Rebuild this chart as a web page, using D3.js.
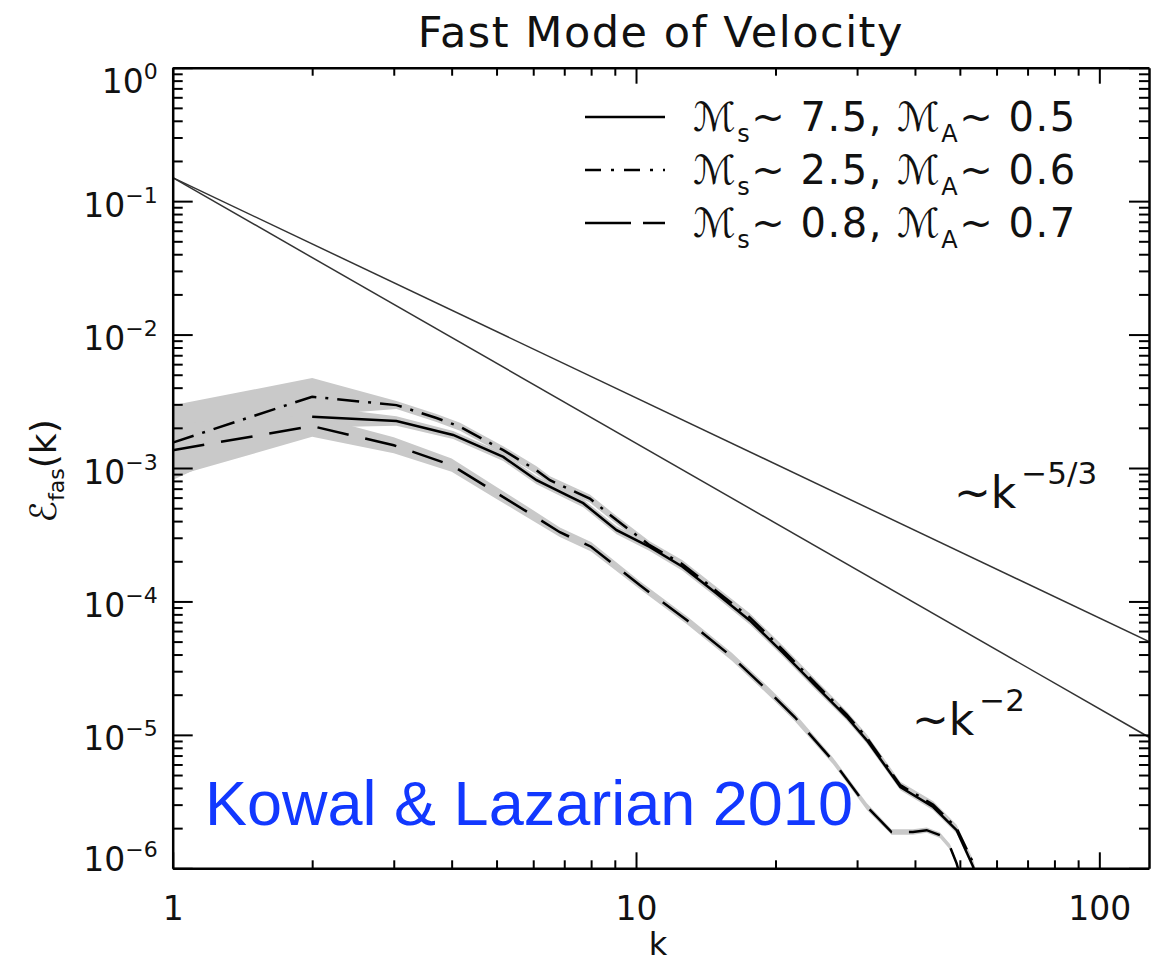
<!DOCTYPE html>
<html>
<head>
<meta charset="utf-8">
<script src="https://cdn.jsdelivr.net/npm/d3@7"></script>
<style>
  body { margin: 0; background: #fff; }
  svg { display: block; }
  text { font-family: "DejaVu Sans", sans-serif; fill: #111; }
</style>
</head>
<body>
<svg id="chart" width="1157" height="965"></svg>
<script>
// ---- fast-mode velocity spectra E_fas(k) ----
// M_s ~ 7.5, M_A ~ 0.5 (solid)
const kSuper = [2, 3.04, 4.03, 5.17, 6.1, 7.2, 7.69, 9.08, 10.7, 12.6, 14.9, 17.6, 20.8, 24.5, 28.5, 31.5, 37.2, 43.8, 49.2, 53.4, 56];
const eSuper = [2.42e-3, 2.25e-3, 1.77e-3, 1.21e-3, 8.1e-4, 6.1e-4, 5.45e-4, 3.42e-4, 2.56e-4, 1.82e-4, 1.15e-4, 7.2e-5, 4.1e-5, 2.3e-5, 1.36e-5, 9.1e-6, 4.07e-6, 2.88e-6, 1.93e-6, 1.03e-6, 6e-7];
const sSuper = [0.08, 0.035, 0.03, 0.03, 0.03, 0.03, 0.03, 0.03, 0.03, 0.03, 0.03, 0.03, 0.03, 0.03, 0.025, 0.025, 0.025, 0.025, 0.025, 0.025, 0.025];

// M_s ~ 2.5, M_A ~ 0.6 (dash-dot)
const kTrans = [1, 2, 3.04, 3.71, 4.17, 5.17, 6.1, 6.52, 7.95, 9.08, 10.7, 12.6, 14.9, 17.6, 20.8, 24.5, 28.5, 31.5, 37.2, 43.8, 49.2, 53.4, 56];
const eTrans = [1.55e-3, 3.42e-3, 2.96e-3, 2.37e-3, 2.04e-3, 1.36e-3, 9.6e-4, 8.1e-4, 5.9e-4, 4.07e-4, 2.64e-4, 1.9e-4, 1.2e-4, 7.6e-5, 4.3e-5, 2.4e-5, 1.42e-5, 9.5e-6, 4.2e-6, 3.0e-6, 2.0e-6, 1.1e-6, 6e-7];
const sTrans = [0.28, 0.14, 0.03, 0.03, 0.03, 0.03, 0.03, 0.03, 0.03, 0.03, 0.03, 0.03, 0.03, 0.03, 0.03, 0.03, 0.025, 0.025, 0.025, 0.025, 0.025, 0.025, 0.025];

// M_s ~ 0.8, M_A ~ 0.7 (long dashes)
const kSub = [1, 2, 3, 4, 5, 6, 6.85, 8, 10.2, 12.9, 16.1, 19.5, 22, 26.6, 31.5, 35.6, 39.6, 42.4, 45.3, 47.6, 49.2, 51];
const eSub = [1.36e-3, 2.06e-3, 1.48e-3, 1.05e-3, 6.5e-4, 4.4e-4, 3.3e-4, 2.57e-4, 1.32e-4, 7.2e-5, 3.85e-5, 2.06e-5, 1.36e-5, 6.4e-6, 2.9e-6, 1.87e-6, 1.87e-6, 1.93e-6, 1.77e-6, 1.45e-6, 1.09e-6, 7e-7];
const sSub = [0.20, 0.08, 0.06, 0.05, 0.045, 0.04, 0.035, 0.035, 0.03, 0.03, 0.03, 0.03, 0.03, 0.025, 0.025, 0.02, 0.02, 0.02, 0.02, 0.02, 0.02, 0.02];

// reference power laws
const kRef = [1, 128];
const eRef53 = [0.15, 5.0e-5];   // ~k^-5/3
const eRef2 = [0.15, 9.6e-6];    // ~k^-2

// legend entries
const legendMs = ["7.5", "2.5", "0.8"];
const legendMa = ["0.5", "0.6", "0.7"];

// axes
const kDomain = [1, 128];
const eDomain = [1e-6, 1];
const xTickValues = [1, 2, 3, 4, 5, 6, 7, 8, 9, 10, 20, 30, 40, 50, 60, 70, 80, 90, 100];
const xMajor = [1, 10, 100];
const xTickLabels = ["1", "10", "100"];
const yExponents = [0, -1, -2, -3, -4, -5, -6];
const yMinorMantissas = [2, 3, 4, 5, 6, 7, 8, 9];

const titleText = "Fast Mode of Velocity";
const creditText = "Kowal & Lazarian 2010";

// ---- layout ----
const svg = d3.select("#chart");
const L = 172.7, R = 1149, T = 67.7, B = 868.3;

const x = d3.scaleLog().domain(kDomain).range([L, R]);
const y = d3.scaleLog().domain(eDomain).range([B, T]);

svg.append("defs").append("clipPath").attr("id", "plotClip")
  .append("rect").attr("x", L).attr("y", T).attr("width", R - L).attr("height", B - T);

const plot = svg.append("g").attr("clip-path", "url(#plotClip)");

const series = [
  { k: kSuper, e: eSuper, s: sSuper, dash: null, legendDash: null },
  { k: kTrans, e: eTrans, s: sTrans, dash: "22,9,3,9", legendDash: "16,10,3,10" },
  { k: kSub, e: eSub, s: sSub, dash: "32,17", legendDash: "46,12" }
];

// spread bands
const band = d3.area()
  .x(d => x(d.k))
  .y0(d => y(d.e / Math.pow(10, d.s)))
  .y1(d => y(d.e * Math.pow(10, d.s)));

series.forEach(sr => {
  const pts = sr.k.map((k, i) => ({ k, e: sr.e[i], s: sr.s[i] }));
  plot.append("path").datum(pts)
    .attr("d", band)
    .attr("fill", "#c9c9c9")
    .attr("stroke", "none");
});

// power-law guides
const line = d3.line().x(d => x(d.k)).y(d => y(d.e));
[eRef53, eRef2].forEach(ev => {
  plot.append("path")
    .datum(kRef.map((k, i) => ({ k, e: ev[i] })))
    .attr("d", line)
    .attr("fill", "none")
    .attr("stroke", "#333")
    .attr("stroke-width", 1.5);
});

// spectra
series.forEach(sr => {
  plot.append("path")
    .datum(sr.k.map((k, i) => ({ k, e: sr.e[i] })))
    .attr("d", line)
    .attr("fill", "none")
    .attr("stroke", "#000")
    .attr("stroke-width", 2.5)
    .attr("stroke-dasharray", sr.dash);
});

// ---- axes ----
const yTickValues = [];
yExponents.forEach(n => {
  yTickValues.push(+("1e" + n));
  if (n > -6) yMinorMantissas.forEach(m => yTickValues.push(+(m + "e" + (n - 1))));
});
const isMajorY = v => Math.abs(Math.log10(v) - Math.round(Math.log10(v))) < 1e-9;
const isMajorX = v => xMajor.includes(v);

function styleAxis(g) {
  g.select(".domain").attr("stroke", "#000").attr("stroke-width", 2.5);
  g.selectAll(".tick line").attr("stroke", "#000").attr("stroke-width", 2);
}

// bottom
const gB = svg.append("g").attr("transform", `translate(0,${B})`)
  .call(d3.axisBottom(x).tickValues(xTickValues).tickSizeInner(-8).tickSizeOuter(0).tickPadding(28)
    .tickFormat(v => isMajorX(v) ? xTickLabels[xMajor.indexOf(v)] : ""));
styleAxis(gB);
gB.selectAll(".tick line").attr("y2", d => isMajorX(d) ? -16 : -8);
gB.selectAll(".tick text").attr("font-size", 33).style("font-family", "'DejaVu Sans', sans-serif").style("fill", "#111");

// top
const gT = svg.append("g").attr("transform", `translate(0,${T})`)
  .call(d3.axisTop(x).tickValues(xTickValues).tickSizeInner(-8).tickSizeOuter(0).tickFormat(""));
styleAxis(gT);
gT.selectAll(".tick line").attr("y2", d => isMajorX(d) ? 16 : 8);

// left
const gL = svg.append("g").attr("transform", `translate(${L},0)`)
  .call(d3.axisLeft(y).tickValues(yTickValues).tickSizeInner(-10).tickSizeOuter(0).tickPadding(15).tickFormat(""));
styleAxis(gL);
gL.selectAll(".tick line").attr("x2", d => isMajorY(d) ? 20 : 10);
gL.selectAll(".tick").filter(d => isMajorY(d)).each(function (d) {
  const n = Math.round(Math.log10(d));
  let off = 15;
  if (n === yExponents[0]) off = 25;
  if (n === yExponents[yExponents.length - 1]) off = 2;
  const t = d3.select(this).select("text")
    .attr("dy", null).attr("x", -15).attr("y", off)
    .attr("font-size", 33).style("font-family", "'DejaVu Sans', sans-serif").style("fill", "#111")
    .attr("text-anchor", "end");
  t.append("tspan").text("10");
  t.append("tspan").attr("font-size", 22).attr("dy", -14)
    .text(n === 0 ? "0" : "\u2212" + Math.abs(n));
});

// right
const gR = svg.append("g").attr("transform", `translate(${R},0)`)
  .call(d3.axisRight(y).tickValues(yTickValues).tickSizeInner(-10).tickSizeOuter(0).tickFormat(""));
styleAxis(gR);
gR.selectAll(".tick line").attr("x2", d => isMajorY(d) ? -20 : -10);

// ---- text ----
svg.append("text").attr("x", (L + R) / 2).attr("y", 47)
  .attr("text-anchor", "middle").attr("font-size", 43)
  .style("letter-spacing", "1.5px")
  .text(titleText);

svg.append("text").attr("x", 658).attr("y", 955)
  .attr("text-anchor", "middle").attr("font-size", 32).text("k");

const yl = svg.append("text")
  .attr("transform", "translate(56,471) rotate(-90)")
  .attr("text-anchor", "middle").attr("font-size", 36);
yl.append("tspan").text("\u2130");
yl.append("tspan").attr("font-size", 22).attr("dy", 8).text("fas");
yl.append("tspan").attr("dy", -8).text("(k)");

// power-law annotations
function powerNote(px, py, expo) {
  const t = svg.append("text").attr("x", px).attr("y", py).attr("font-size", 44);
  t.append("tspan").text("~k");
  t.append("tspan").attr("font-size", 31).attr("dy", -24).attr("dx", 5).text(expo);
}
powerNote(954, 508, "\u22125/3");
powerNote(912, 735, "\u22122");

// legend
legendMs.forEach((ms, i) => {
  const ly = 117 + i * 53;
  svg.append("line").attr("x1", 585).attr("x2", 665).attr("y1", ly).attr("y2", ly)
    .attr("stroke", "#000").attr("stroke-width", 2.5)
    .attr("stroke-dasharray", series[i].legendDash);
  const t = svg.append("text").attr("x", 693).attr("y", ly + 14).attr("font-size", 40)
    .style("letter-spacing", "1.5px");
  t.append("tspan").text("\u2133");
  t.append("tspan").attr("font-size", 24).attr("dy", 11).text("s");
  t.append("tspan").attr("dy", -11).text("~ " + ms + ", \u2133");
  t.append("tspan").attr("font-size", 24).attr("dy", 11).text("A");
  t.append("tspan").attr("dy", -11).text("~ " + legendMa[i]);
});

// credit
svg.append("text").attr("x", 205).attr("y", 825)
  .style("font-family", "'Liberation Sans', Arial, sans-serif")
  .attr("font-size", 63).style("fill", "#1238ff")
  .text(creditText);
</script>
</body>
</html>
